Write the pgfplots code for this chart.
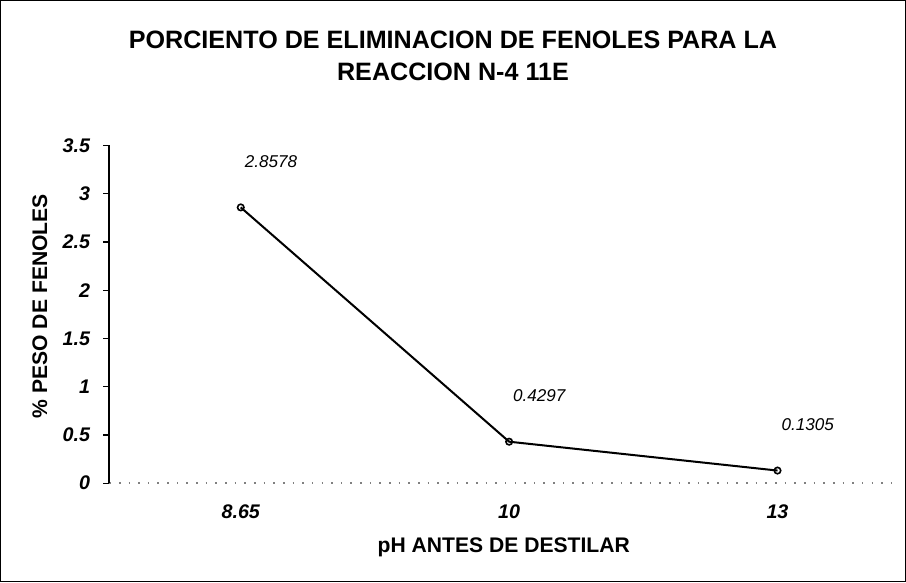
\documentclass[border=0pt]{standalone}
\usepackage{fontspec}
\setmainfont{Liberation Sans}
\usepackage{pgfplots}
\pgfplotsset{compat=1.18}
\begin{document}
\begin{tikzpicture}
\begin{axis}[
  scale only axis, width=392.5pt, height=168pt,
  xmin=-0.49, xmax=2.45, ymin=0, ymax=3.5,
  xtick={0,1,2}, xticklabels={8.65,10,13},
  ytick={0,0.5,...,3.5},
  axis lines*=left,
  x axis line style={gray, loosely dotted, line width=0.8pt},
  y axis line style={black, line width=0.8pt},
  xtick style={draw=none},
  ytick style={black, line width=0.6pt},
  tick align=outside, major tick length=3pt,
  /pgf/number format/assume math mode=true,
  tick label style={font=\bfseries\itshape\fontsize{9.8}{11}\selectfont},
  xticklabel style={anchor=center, yshift=-11pt},
  yticklabel style={anchor=east, xshift=-3pt},
  xlabel={pH ANTES DE DESTILAR},
  ylabel={\% PESO DE FENOLES},
  label style={font=\bfseries\fontsize{10.5}{12}\selectfont},
  xlabel style={at={(axis description cs:0.5,0)}, anchor=center, yshift=-32pt},
  ylabel style={at={(axis description cs:0,0.524)}, anchor=center, yshift=34.5pt},
  point meta=explicit symbolic,
  nodes near coords,
  every node near coord/.append style={font=\itshape\fontsize{8.5}{10}\selectfont, anchor=center, xshift=15pt, yshift=23pt},
  clip=false,
]
\addplot[black, line width=1pt, mark=o, mark size=1.6pt, mark options={solid, line width=0.8pt}]
  coordinates {(0,2.8578) [2.8578] (1,0.4297) [0.4297] (2,0.1305) [0.1305]};
\end{axis}
\node[font=\bfseries\fontsize{12.5}{16}\selectfont, align=center] at (171pt,212.5pt)
  {PORCIENTO DE ELIMINACION DE FENOLES PARA LA\\REACCION N-4 11E};
\draw[line width=0.7pt] (-54pt,-49pt) rectangle (396pt,240pt);
\end{tikzpicture}
\end{document}
